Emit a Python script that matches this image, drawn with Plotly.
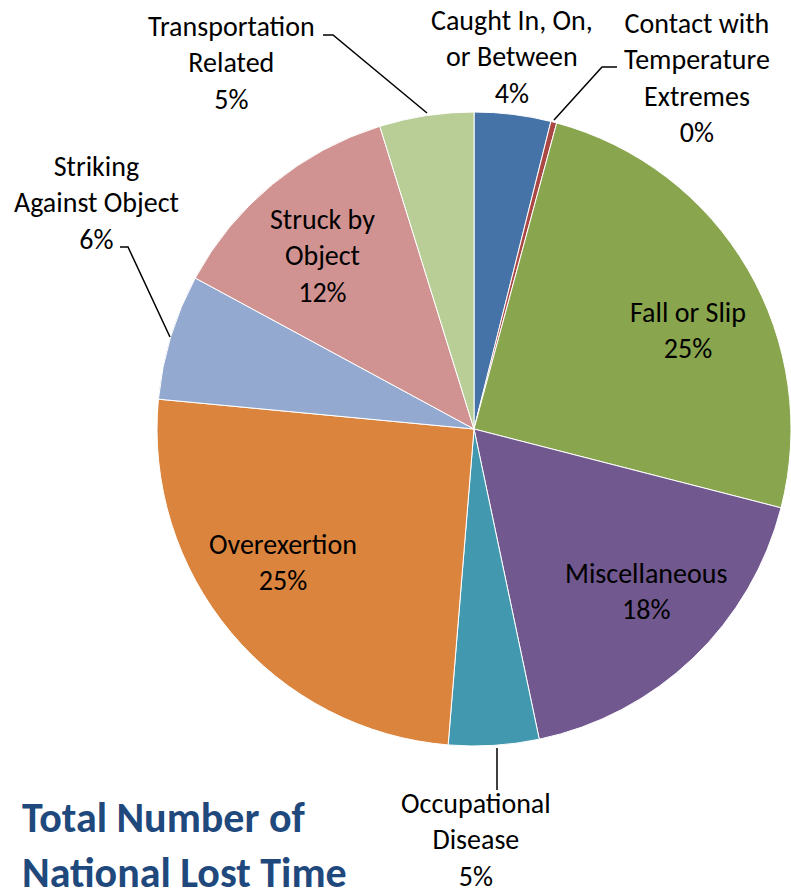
import plotly.graph_objects as go

W, H = 791, 889

categories = ['Caught In, On,<br>or Between', 'Contact with<br>Temperature<br>Extremes',
              'Fall or Slip', 'Miscellaneous', 'Occupational<br>Disease', 'Overexertion',
              'Striking<br>Against Object', 'Struck by<br>Object', 'Transportation<br>Related']
shares = [3.9, 0.3, 24.8, 17.7, 4.6, 25.2, 6.4, 12.3, 4.8]
colors = ['#4572A7', '#AA4643', '#89A54E', '#71588F', '#4198AF', '#DB843D',
          '#93A9CF', '#D19392', '#B9CD96']

# label centres in pixels (x, y from top)
label_pos = [(512, 57), (697, 78), (688, 330), (646, 591), (476, 840), (283, 562),
             (96, 203), (322, 256), (231, 63)]
# leader lines in pixels, None where the label sits on or next to the slice
leaders = [None, [(554, 120), (602, 67), (617, 67)], None, None,
           [(497, 748), (497, 790)], None,
           [(170, 337), (128, 247), (120, 247)], None,
           [(427, 113), (333, 35), (323, 35)]]

FONT = 'Carlito, Lato, sans-serif'


def px(x, y):
    return x / W, 1 - y / H


fig = go.Figure()
cx, cy, r = 474, 429, 317
fig.add_trace(go.Pie(
    labels=categories, values=shares, sort=False, direction='clockwise', rotation=0,
    marker=dict(colors=colors, line=dict(color='white', width=1)),
    textinfo='none', hoverinfo='label+percent', showlegend=False,
    domain=dict(x=[(cx - r) / W, min(1, (cx + r) / W)],
                y=[1 - (cy + r) / H, 1 - (cy - r) / H]),
))

total = sum(shares)
for lab, v, (x, y) in zip(categories, shares, label_pos):
    ax_, ay_ = px(x, y)
    fig.add_annotation(x=ax_, y=ay_, xref='paper', yref='paper', showarrow=False,
                       text=f'{lab}<br>{round(v / total * 100)}%',
                       font=dict(family=FONT, size=28, color='black'),
                       xanchor='center', yanchor='middle')

shapes = []
for pts in leaders:
    if pts is None:
        continue
    path = 'M ' + ' L '.join(f'{px(x, y)[0]},{px(x, y)[1]}' for x, y in pts)
    shapes.append(dict(type='path', xref='paper', yref='paper', path=path,
                       line=dict(color='black', width=1.5)))

fig.add_annotation(x=px(20, 0)[0], y=px(0, 845)[1], xref='paper', yref='paper',
                   showarrow=False, text='<b>Total Number of<br>National Lost Time</b>',
                   font=dict(family=FONT, size=42, color='#1F497D'),
                   xanchor='left', yanchor='middle', align='left')

fig.update_layout(width=W, height=H, margin=dict(l=0, r=0, t=0, b=0),
                  paper_bgcolor='white', plot_bgcolor='white', shapes=shapes)

# drop the default page margin so the figure sits at the window's corner
fig.write_html('out.html', config={'displayModeBar': False},
               post_script="document.body.style.margin='0';")
